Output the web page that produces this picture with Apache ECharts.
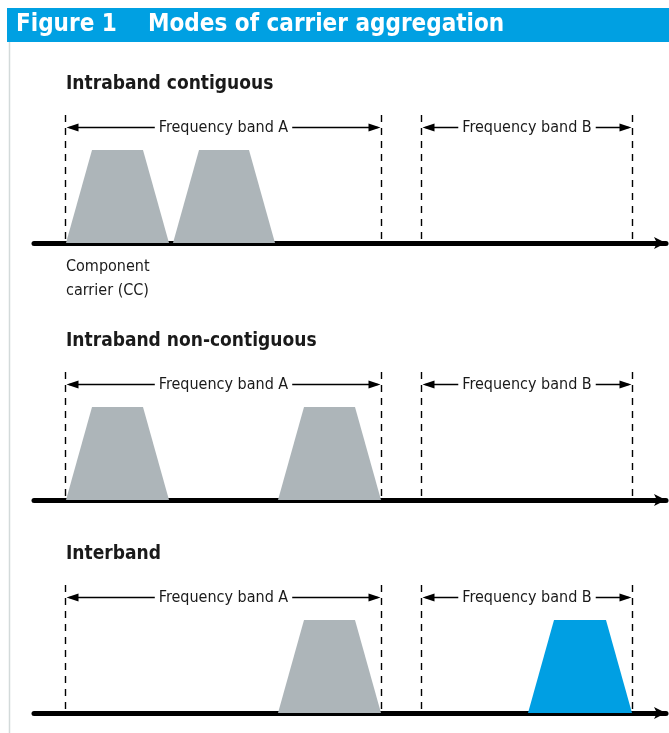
<!DOCTYPE html>
<html>
<head>
<meta charset="utf-8">
<script src="https://cdn.jsdelivr.net/npm/echarts@6/dist/echarts.min.js"></script>
<style>
html, body { margin: 0; padding: 0; background: #fff; }
#main { width: 669px; height: 733px; }
</style>
</head>
<body>
<div id="main"></div>
<script>
var myChart = echarts.init(document.getElementById('main'));

// figure content
var figureTitle = ['Figure 1', 'Modes of carrier aggregation'];
var panelTitles = ['Intraband contiguous', 'Intraband non-contiguous', 'Interband'];
var bandNames = ['Frequency band A', 'Frequency band B'];
var bandEdges = [[0, 316], [356, 567]];          // frequency units
var carriers1 = [[1, 104], [108, 210]];           // [start, end] of each CC
var carriers2 = [[1, 104], [213, 316]];
var carriers3 = [[213, 316], [463, 567]];
var carrierBand3 = ['A', 'B'];                   // which band each CC of panel 3 sits in
var carrierHeight = 93;
var carrierShoulder = 26;
var arrowLevel = 116;
var freqRange = [-31, 601];
var levelMax = 128;

var GREY = '#adb5b9', BLUE = '#009fe3', INK = '#1a1a1a';
var NARROW = '"Liberation Sans Narrow", "DejaVu Sans Condensed", sans-serif';

var panelCarriers = [carriers1, carriers2, carriers3];
var panelTops = [115, 372, 585];

function renderCarrier(params, api) {
  var lo = api.value(0), hi = api.value(1);
  var p0 = api.coord([lo, 0]), p1 = api.coord([lo + carrierShoulder, carrierHeight]);
  var p2 = api.coord([hi - carrierShoulder, carrierHeight]), p3 = api.coord([hi, 0]);
  return {
    type: 'polygon',
    shape: { points: [p0, p1, p2, p3] },
    style: { fill: api.value(2) === 1 ? BLUE : GREY }
  };
}

function renderBand(params, api) {
  var lo = api.value(0), hi = api.value(1);
  var name = bandNames[params.dataIndex];
  var aL = api.coord([lo, arrowLevel]), aR = api.coord([hi, arrowLevel]);
  var bot = api.coord([lo, 0])[1], top = api.coord([lo, levelMax])[1];
  var xl = Math.round(aL[0]) + 0.5, xr = Math.round(aR[0]) + 0.5, y = Math.round(aL[1]) + 0.5;
  var dash = { stroke: '#000', lineWidth: 1.4, lineDash: [7, 6] };
  return {
    type: 'group',
    children: [
      { type: 'line', shape: { x1: xl, y1: top, x2: xl, y2: bot }, style: dash },
      { type: 'line', shape: { x1: xr, y1: top, x2: xr, y2: bot }, style: dash },
      { type: 'line', shape: { x1: xl + 4, y1: y, x2: xr - 4, y2: y }, style: { stroke: '#000', lineWidth: 1.3 } },
      { type: 'polygon', shape: { points: [[xl + 1, y], [xl + 13, y - 4], [xl + 13, y + 4]] }, style: { fill: '#000' } },
      { type: 'polygon', shape: { points: [[xr - 1, y], [xr - 13, y - 4], [xr - 13, y + 4]] }, style: { fill: '#000' } },
      {
        type: 'text', x: (xl + xr) / 2, y: y,
        style: {
          text: name, align: 'center', verticalAlign: 'middle',
          font: '16px ' + NARROW, fill: INK,
          backgroundColor: '#fff', padding: [0, 4]
        }
      }
    ]
  };
}

var grids = [], xAxes = [], yAxes = [], series = [];
panelTops.forEach(function (t, i) {
  grids.push({ left: 34, top: t, width: freqRange[1] - freqRange[0], height: levelMax });
  xAxes.push({
    type: 'value', gridIndex: i, min: freqRange[0], max: freqRange[1],
    axisLine: { show: true, symbol: ['none', 'arrow'], symbolSize: [9, 12], lineStyle: { color: '#000', width: 5 } },
    axisTick: { show: false }, axisLabel: { show: false }, splitLine: { show: false }
  });
  yAxes.push({ type: 'value', gridIndex: i, min: 0, max: levelMax, show: false });
  series.push({
    type: 'custom', xAxisIndex: i, yAxisIndex: i, renderItem: renderCarrier, silent: true,
    data: panelCarriers[i].map(function (c, k) {
      return [c[0], c[1], i === 2 && carrierBand3[k] === 'B' ? 1 : 0];
    })
  });
  series.push({
    type: 'custom', xAxisIndex: i, yAxisIndex: i, renderItem: renderBand, silent: true, z: 3,
    data: bandEdges
  });
});

var titles = panelTitles.map(function (txt, i) {
  return {
    text: txt, left: 66, top: panelTops[i] - 40, padding: 0,
    textStyle: { fontFamily: NARROW, fontWeight: 'bold', fontSize: 19, color: INK }
  };
});
titles.push({
  text: 'Component\ncarrier (CC)', left: 66, top: 255, padding: 0,
  textStyle: { fontFamily: NARROW, fontWeight: 'normal', fontSize: 16, lineHeight: 24, color: INK }
});
titles.push({
  text: figureTitle[0], left: 16, top: 13, padding: 0,
  textStyle: { fontFamily: NARROW, fontWeight: 'bold', fontSize: 24, color: '#fff' }
});
titles.push({
  text: figureTitle[1], left: 148, top: 13, padding: 0,
  textStyle: { fontFamily: NARROW, fontWeight: 'bold', fontSize: 24, color: '#fff' }
});

var option = {
  backgroundColor: '#fff',
  animation: false,
  graphic: [
    { type: 'rect', z: -1, shape: { x: 7, y: 8, width: 662, height: 34 }, style: { fill: '#00a0e2' } },
    { type: 'line', z: -1, shape: { x1: 9.5, y1: 42, x2: 9.5, y2: 733 }, style: { stroke: '#d3dada', lineWidth: 1.5 } }
  ],
  title: titles,
  grid: grids,
  xAxis: xAxes,
  yAxis: yAxes,
  series: series
};
myChart.setOption(option);
</script>
</body>
</html>
